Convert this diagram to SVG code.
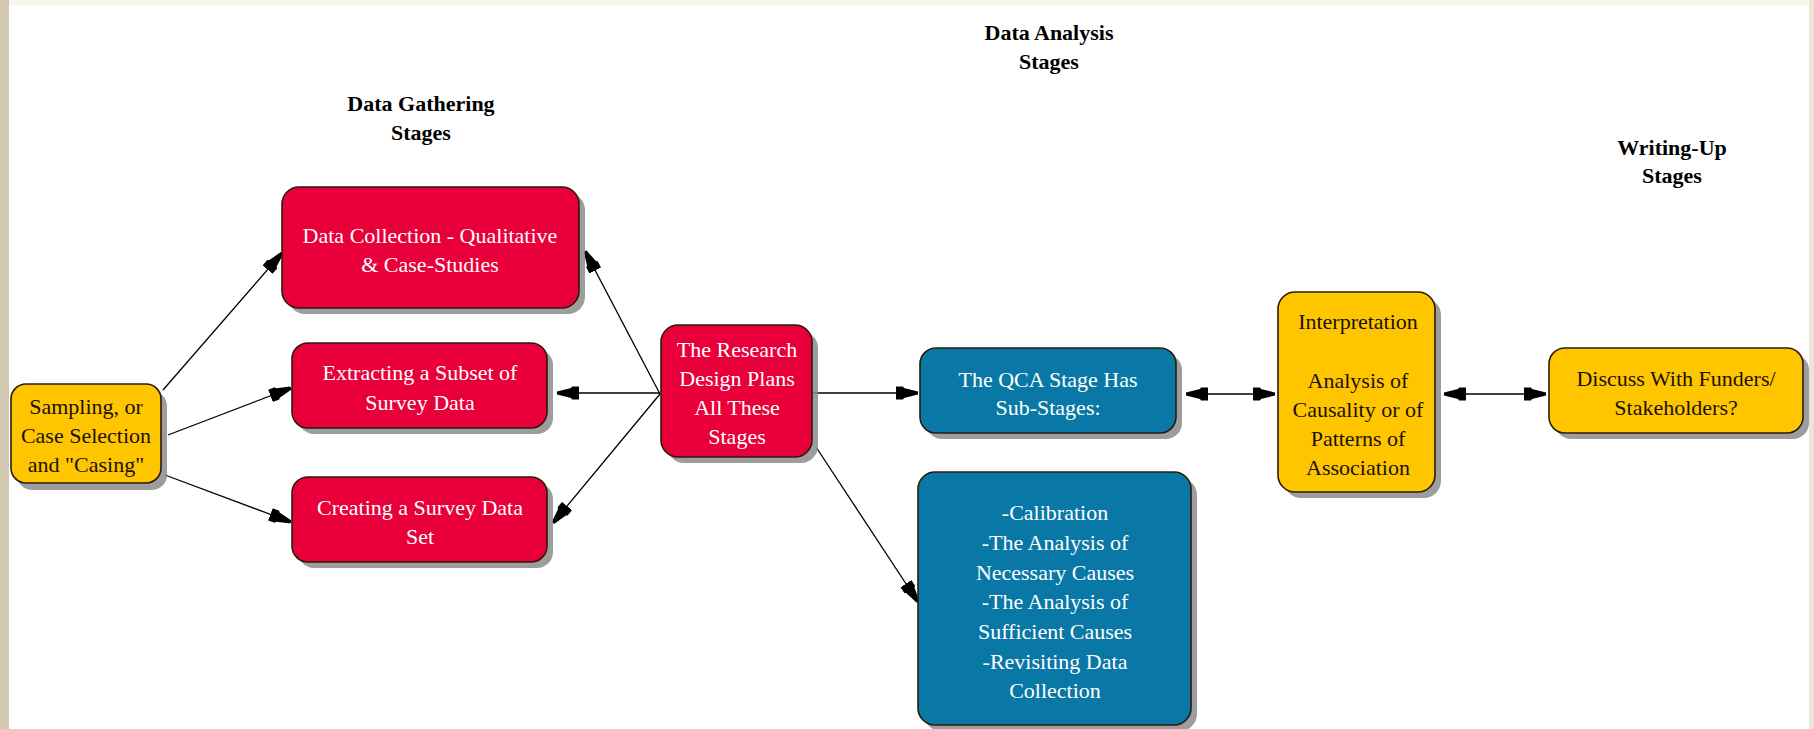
<svg xmlns="http://www.w3.org/2000/svg" width="1814" height="729" viewBox="0 0 1814 729">
<style>
.box{stroke:#2b1a0a;stroke-width:1.6}
.red{fill:#e9003a}
.blue{fill:#0a78a6}
.yel{fill:#ffc600}
.sh{fill:#8c8c8c;opacity:0.85}
.t{font-family:"Liberation Serif","Times New Roman",serif;font-size:22px;text-anchor:middle}
.w{fill:#ffffff}
.k{fill:#1a1208}
.title{font-family:"Liberation Serif","Times New Roman",serif;font-size:22px;font-weight:bold;text-anchor:middle;fill:#000}
.edge{stroke:#000;stroke-width:1.3;fill:none}
</style>
<defs>
<marker id="ah" viewBox="0 0 22 14" refX="22" refY="7" markerWidth="22" markerHeight="14" markerUnits="userSpaceOnUse" orient="auto-start-reverse">
<path d="M0,0.5 L7,0.5 L8,2 L22,5.5 L22,8.5 L8,12 L7,13.5 L0,13.5 Z" fill="#000"/>
</marker>
</defs>
<rect x="0" y="0" width="1814" height="729" fill="#ffffff"/>
<rect x="0" y="0" width="1814" height="5" fill="#f8f5e6"/>
<rect x="0" y="0" width="9" height="729" fill="#d3c9b0"/>
<rect x="1809" y="0" width="5" height="729" fill="#ece5d4"/>

<g id="titles">
<text class="title" x="421" y="111">Data Gathering</text>
<text class="title" x="421" y="140">Stages</text>
<text class="title" x="1049" y="40">Data Analysis</text>
<text class="title" x="1049" y="69">Stages</text>
<text class="title" x="1672" y="155">Writing-Up</text>
<text class="title" x="1672" y="183">Stages</text>
</g>

<g id="connectors">
<path class="edge" d="M163,390 L282,253" marker-end="url(#ah)"/>
<path class="edge" d="M168,435 L291,388" marker-end="url(#ah)"/>
<path class="edge" d="M165,475 L291,522" marker-end="url(#ah)"/>
<path class="edge" d="M660,394 L585,251" marker-end="url(#ah)"/>
<path class="edge" d="M660,393 L557,393" marker-end="url(#ah)"/>
<path class="edge" d="M660,394 L553,523" marker-end="url(#ah)"/>
<path class="edge" d="M812,393 L918,393" marker-end="url(#ah)"/>
<path class="edge" d="M816,447 L918,602" marker-end="url(#ah)"/>
<path class="edge" d="M1186,394 L1275,394" marker-start="url(#ah)" marker-end="url(#ah)"/>
<path class="edge" d="M1444,394 L1546,394" marker-start="url(#ah)" marker-end="url(#ah)"/>
</g>

<g id="node-sampling">
<rect class="sh" x="17" y="391" width="150" height="99" rx="15"/>
<rect class="box yel" x="11" y="384" width="150" height="99" rx="15"/>
<text class="t k" x="86" y="414">Sampling, or</text>
<text class="t k" x="86" y="443">Case Selection</text>
<text class="t k" x="86" y="472">and "Casing"</text>
</g>

<g id="node-data-collection">
<rect class="sh" x="288" y="193" width="297" height="121" rx="17"/>
<rect class="box red" x="282" y="187" width="297" height="121" rx="17"/>
<text class="t w" x="430" y="243">Data Collection - Qualitative</text>
<text class="t w" x="430" y="272">&amp; Case-Studies</text>
</g>

<g id="node-extracting">
<rect class="sh" x="298" y="349" width="255" height="85" rx="16"/>
<rect class="box red" x="292" y="343" width="255" height="85" rx="16"/>
<text class="t w" x="420" y="380">Extracting a Subset of</text>
<text class="t w" x="420" y="410">Survey Data</text>
</g>

<g id="node-creating">
<rect class="sh" x="298" y="483" width="255" height="85" rx="16"/>
<rect class="box red" x="292" y="477" width="255" height="85" rx="16"/>
<text class="t w" x="420" y="515">Creating a Survey Data</text>
<text class="t w" x="420" y="544">Set</text>
</g>

<g id="node-research">
<rect class="sh" x="667" y="331" width="151" height="132" rx="17"/>
<rect class="box red" x="661" y="325" width="151" height="132" rx="17"/>
<text class="t w" x="737" y="357">The Research</text>
<text class="t w" x="737" y="386">Design Plans</text>
<text class="t w" x="737" y="415">All These</text>
<text class="t w" x="737" y="444">Stages</text>
</g>

<g id="node-qca">
<rect class="sh" x="926" y="354" width="256" height="85" rx="16"/>
<rect class="box blue" x="920" y="348" width="256" height="85" rx="16"/>
<text class="t w" x="1048" y="387">The QCA Stage Has</text>
<text class="t w" x="1048" y="415">Sub-Stages:</text>
</g>

<g id="node-substages">
<rect class="sh" x="924" y="478" width="273" height="253" rx="17"/>
<rect class="box blue" x="918" y="472" width="273" height="253" rx="17"/>
<text class="t w" x="1055" y="520">-Calibration</text>
<text class="t w" x="1055" y="550">-The Analysis of</text>
<text class="t w" x="1055" y="580">Necessary Causes</text>
<text class="t w" x="1055" y="609">-The Analysis of</text>
<text class="t w" x="1055" y="639">Sufficient Causes</text>
<text class="t w" x="1055" y="669">-Revisiting Data</text>
<text class="t w" x="1055" y="698">Collection</text>
</g>

<g id="node-interpretation">
<rect class="sh" x="1284" y="298" width="157" height="200" rx="17"/>
<rect class="box yel" x="1278" y="292" width="157" height="200" rx="17"/>
<text class="t k" x="1358" y="329">Interpretation</text>
<text class="t k" x="1358" y="388">Analysis of</text>
<text class="t k" x="1358" y="417">Causality or of</text>
<text class="t k" x="1358" y="446">Patterns of</text>
<text class="t k" x="1358" y="475">Association</text>
</g>

<g id="node-discuss">
<rect class="sh" x="1555" y="354" width="254" height="85" rx="16"/>
<rect class="box yel" x="1549" y="348" width="254" height="85" rx="16"/>
<text class="t k" x="1676" y="386">Discuss With Funders/</text>
<text class="t k" x="1676" y="415">Stakeholders?</text>
</g>
</svg>
